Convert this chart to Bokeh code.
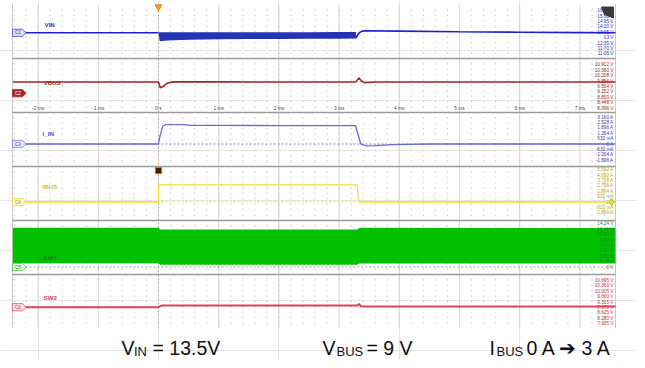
import numpy as np
from bokeh.plotting import figure
from bokeh.models import Range1d, Label
from bokeh.embed import file_html
from bokeh.resources import INLINE
from bokeh.core.properties import value

# ---------------- data (time in ms) ----------------
time_ticks = [-2, -1, 0, 1, 2, 3, 4, 5, 6, 7]
time_labels = ["-2 ms", "-1 ms", "0 s", "1 ms", "2 ms", "3 ms", "4 ms", "5 ms", "6 ms", "7 ms"]

vin_ticks = [16.25, 15.60, 14.95, 14.30, 13.65, 13.0, 12.35, 11.70, 11.05]
vin_tick_labels = ["16.25 V", "15.60 V", "14.95 V", "14.30 V", "13.65 V", "13 V", "12.35 V", "11.70 V", "11.05 V"]
vbus_ticks = [10.912, 10.560, 10.208, 9.856, 9.504, 9.152, 8.800, 8.448, 8.096]
vbus_tick_labels = ["10.912 V", "10.560 V", "10.208 V", "9.856 V", "9.504 V", "9.152 V", "8.800 V", "8.448 V", "8.096 V"]
iin_ticks = [3.160, 2.528, 1.896, 1.264, 0.632, 0.0, -0.632, -1.264, -1.896]
iin_tick_labels = ["3.160 A", "2.528 A", "1.896 A", "1.264 A", "632 mA", "0 A", "-632 mA", "-1.264 A", "-1.896 A"]
ibus_ticks = [5.592, 4.660, 3.728, 2.796, 1.864, 0.932, 0.0, -0.932, -1.864]
ibus_tick_labels = ["5.592 A", "4.660 A", "3.728 A", "2.796 A", "1.864 A", "932 mA", "0 A", "-932 mA", "-1.864 A"]
sw1_ticks = [14.24, 12.46, 10.68, 8.90, 7.12, 5.34, 3.56, 1.78, 0.0]
sw1_tick_labels = ["14.24 V", "12.46 V", "10.68 V", "8.90 V", "7.12 V", "5.34 V", "3.56 V", "1.78 V", "0 V"]
sw2_ticks = [10.695, 10.350, 10.005, 9.660, 9.315, 8.970, 8.625, 8.280, 7.935]
sw2_tick_labels = ["10.695 V", "10.350 V", "10.005 V", "9.660 V", "9.315 V", "8.970 V", "8.625 V", "8.280 V", "7.935 V"]

# VIN: line before load step, ripple band during load, line after
vin_pre_t = [-2.42, -1.0, 0.0]
vin_pre_v = [13.58, 13.58, 13.58]
vin_band_t = [0.0, 0.02, 0.15, 0.5, 1.0, 1.5, 2.0, 2.5, 3.0, 3.28]
vin_band_hi = [13.62, 13.64, 13.64, 13.64, 13.65, 13.65, 13.65, 13.65, 13.66, 13.66]
vin_band_lo = [13.58, 12.55, 12.64, 12.74, 12.80, 12.82, 12.84, 12.85, 12.86, 12.88]
vin_post_t = [3.28, 3.33, 3.38, 3.45, 4.0, 5.0, 6.0, 7.0, 7.59]
vin_post_v = [12.95, 13.55, 13.78, 13.83, 13.78, 13.70, 13.65, 13.60, 13.58]

vbus_t = [-2.42, 0.0, 0.03, 0.08, 0.15, 0.25, 1.0, 2.0, 3.0, 3.28, 3.33, 3.37, 3.42, 3.6, 5.0, 7.59]
vbus_v = [9.79, 9.79, 9.42, 9.50, 9.72, 9.80, 9.80, 9.79, 9.79, 9.80, 10.06, 9.86, 9.75, 9.79, 9.79, 9.79]

iin_t = [-2.42, 0.0, 0.03, 0.07, 0.12, 0.4, 0.55, 1.0, 2.0, 3.0, 3.27, 3.31, 3.36, 3.45, 3.6, 3.9, 4.5, 7.59]
iin_v = [0.0, 0.0, 1.1, 2.1, 2.26, 2.26, 2.17, 2.17, 2.16, 2.16, 2.16, 1.2, 0.0, -0.22, -0.20, -0.08, 0.0, 0.0]

ibus_t = [-2.42, 0.0, 0.005, 3.30, 3.32, 3.36, 7.59]
ibus_v = [0.0, 0.0, 2.97, 2.97, 0.5, 0.0, 0.0]

sw1_t = [-2.42, 0.0, 0.03, 3.30, 3.34, 7.59]
sw1_hi = [12.92, 12.92, 12.36, 12.36, 12.90, 12.88]
sw1_lo = [1.25, 1.25, 0.72, 0.72, 1.15, 1.15]

sw2_t = [-2.42, 0.0, 0.06, 3.30, 3.33, 3.37, 7.59]
sw2_v = [8.99, 8.99, 9.10, 9.10, 9.20, 9.03, 9.03]

# ---------------- layout helpers ----------------
W, H = 637, 360
X0 = 158.0          # page x of t = 0
PXMS = 60.2         # pixels per ms
def tx(xp):
    return (xp - X0) / PXMS

STEP = 5.4
X_LEFT, X_RIGHT = 12, 615
PANEL_TOPS = [4, 58, 112, 166, 220, 274]
PANEL_BOTTOM = 328

chan = {
    "vin": (vin_ticks, vin_tick_labels, 10.1, "#2a2ac8"),
    "vbus": (vbus_ticks, vbus_tick_labels, 64.3, "#a02828"),
    "iin": (iin_ticks, iin_tick_labels, 116.5, "#3a3ab0"),
    "ibus": (ibus_ticks, ibus_tick_labels, 169.1, "#b0a818"),
    "sw1": (sw1_ticks, sw1_tick_labels, 223.3, "#1f8a1f"),
    "sw2": (sw2_ticks, sw2_tick_labels, 280.0, "#b83050"),
}

p = figure(width=W, height=H, x_range=Range1d(tx(0), tx(W)), y_range=Range1d(H, 0),
           output_backend="svg", toolbar_location=None, x_axis_location=None,
           y_axis_location=None, min_border=0, outline_line_color=None)
p.background_fill_color = "white"

extra = {}
for name, (ticks, labels, y0, col) in chan.items():
    v0 = ticks[0]
    dv = ticks[0] - ticks[1]
    def v_at(y, v0=v0, dv=dv, y0=y0):
        return v0 - (y - y0) / STEP * dv
    extra[name] = Range1d(v_at(H), v_at(0))
p.extra_y_ranges = extra

FONT = value("Liberation Sans")

# ---------------- grid ----------------
cols = [0.2 * k for k in range(-12, 38)]
cols = [c for c in cols if tx(X_LEFT) <= c <= tx(X_RIGHT)]
rows = [top + j * STEP for top in PANEL_TOPS for j in range(1, 10)]
gx, gy = np.meshgrid(cols, rows)
p.scatter(gx.ravel(), gy.ravel(), marker="square", size=1.1, color="#c0c0c0", line_color=None)

p.segment(x0=time_ticks, y0=[PANEL_TOPS[0]] * len(time_ticks), x1=time_ticks,
          y1=[PANEL_BOTTOM] * len(time_ticks),
          line_color=["#a0a0a0" if t == 0 else "#d6d6d6" for t in time_ticks], line_width=1)
p.segment(x0=[0], y0=[PANEL_TOPS[0]], x1=[0], y1=[PANEL_BOTTOM], line_color="white", line_width=1.2,
          line_dash="2 2")
p.segment(x0=[tx(X_LEFT), tx(X_RIGHT)], y0=[PANEL_TOPS[0]] * 2, x1=[tx(X_LEFT), tx(X_RIGHT)],
          y1=[PANEL_BOTTOM] * 2, line_color="#c8c8c8", line_width=1)
seps = PANEL_TOPS[1:]
p.segment(x0=[tx(X_LEFT)] * len(seps), y0=seps, x1=[tx(X_RIGHT)] * len(seps), y1=seps,
          line_color="#9a9a9a", line_width=1.5)

# time labels
p.text(x=time_ticks, y=[108] * len(time_ticks), text=time_labels, text_font=FONT,
       text_font_size="4.8px", text_color="#4a4a4a", text_align="center", text_baseline="middle")

# zero reference dashes
p.segment(x0=[tx(25)], y0=[0], x1=[tx(X_RIGHT - 2)], y1=[0], y_range_name="iin",
          line_color="#8080d8", line_dash="2 2", line_width=1)
p.segment(x0=[tx(25)], y0=[0], x1=[tx(X_RIGHT - 2)], y1=[0], y_range_name="ibus",
          line_color="#e8dc30", line_dash="2 2", line_width=1)
p.segment(x0=[tx(25)], y0=[0], x1=[tx(X_RIGHT - 2)], y1=[0], y_range_name="sw1",
          line_color="#a0a0a0", line_dash="2 2", line_width=1)

# SW1 switching envelope
p.varea(x=sw1_t, y1=sw1_lo, y2=sw1_hi, y_range_name="sw1", fill_color="#00c000")

# right-side scale labels
for name, (ticks, labels, y0, col) in chan.items():
    p.text(x=[tx(613)] * len(ticks), y=ticks, text=labels, y_range_name=name, text_font=FONT,
           text_font_size="4.7px", text_color=col, text_align="right", text_baseline="middle")

# ---------------- traces ----------------
p.varea(x=vin_band_t, y1=vin_band_lo, y2=vin_band_hi, y_range_name="vin", fill_color="#2434b4")
p.line(vin_pre_t, vin_pre_v, y_range_name="vin", line_color="#1f1fd6", line_width=1.6)
p.line(vin_post_t, vin_post_v, y_range_name="vin", line_color="#1f1fd6", line_width=1.6)
p.line(vbus_t, vbus_v, y_range_name="vbus", line_color="#a52222", line_width=1.6)
p.line(iin_t, iin_v, y_range_name="iin", line_color="#6a6ad8", line_width=1.3)
p.line(ibus_t, ibus_v, y_range_name="ibus", line_color="#f0e030", line_width=1.3)
p.line(sw2_t, sw2_v, y_range_name="sw2", line_color="#e2405c", line_width=2.0)

# channel names
names = ["VIN", "VBUS", "I_IN", "IBUS", "SW1", "SW2"]
name_x = [44, 43, 42, 42, 43, 43]
name_y = [24, 82, 133, 186, 257, 297]
name_col = ["#3030c8", "#a02828", "#5050c0", "#c8c040", "#0c8a0c", "#d04060"]
p.text(x=[tx(v) for v in name_x], y=name_y, text=names, text_font=FONT, text_font_size="6.2px",
       text_color=name_col, text_align="left", text_baseline="middle", text_font_style="bold")

# channel badges
badge_y = [32.3, 92.7, 143.5, 201.5, 266.5, 306.7]
badge_fill = ["#dcdcff", "#a82828", "#e2e2fa", "#fffbd0", "#e2ffe2", "#ffe2e8"]
badge_line = ["#4848d0", "#a82828", "#7878d0", "#e0d640", "#50c050", "#e05070"]
badge_txt = ["#4040c0", "#ffffff", "#5050b0", "#908800", "#208020", "#c03050"]
xs, ys = [], []
for yc in badge_y:
    xs.append([tx(12), tx(22), tx(25.5), tx(22), tx(12)])
    ys.append([yc - 3.6, yc - 3.6, yc, yc + 3.6, yc + 3.6])
p.patches(xs, ys, fill_color=badge_fill, line_color=badge_line, line_width=0.8)
p.text(x=[tx(17.5)] * 6, y=badge_y, text=["C1", "C2", "C3", "C4", "C5", "C6"], text_font=FONT,
       text_font_size="4.5px", text_color=badge_txt, text_align="center", text_baseline="middle")

# trigger markers
p.scatter([0], [6.3], marker="inverted_triangle", size=7, fill_color="#f4a024", line_color="#e08a10")
p.scatter([0], [170], marker="square", size=6.5, fill_color="#3a2204", line_color="#e88a10", line_width=1)
p.scatter([tx(611)], [0], y_range_name="ibus", marker="diamond", size=7, fill_color="#f0e030",
          line_color="#c8b820")
p.patch([tx(601), tx(613), tx(613), tx(604)], [6.5, 6.5, 17.5, 14], fill_color="#3a3a3a",
        line_color="#3a3a3a")

# ---------------- caption ----------------
def lab(xp, yp, txt, size):
    p.add_layout(Label(x=tx(xp), y=yp, text=txt, text_font_size=size, text_font="Liberation Sans",
                       text_color="#111111", text_align="left", text_baseline="alphabetic"))

MAIN, SUB = "19.5px", "13px"
MB, SB = 347.5, 350.5
lab(121, MB, "V", MAIN)
lab(133.5, SB, "IN", SUB)
lab(152, MB, "= 13.5V", MAIN)
lab(322, MB, "V", MAIN)
lab(336, SB, "BUS", SUB)
lab(366, MB, "= 9 V", MAIN)
lab(489, MB, "I", MAIN)
lab(496, SB, "BUS", SUB)
lab(526, MB, "0 A \u2794 3 A", MAIN)

open("out.html", "w").write(file_html(p, INLINE))
